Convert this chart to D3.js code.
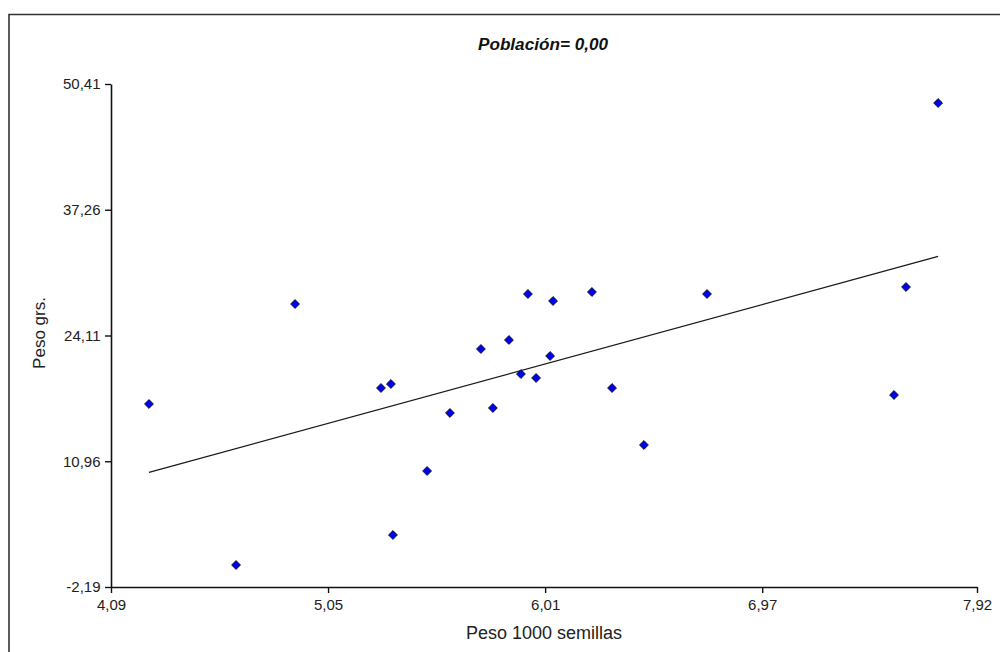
<!DOCTYPE html>
<html>
<head>
<meta charset="utf-8">
<script src="https://cdn.jsdelivr.net/npm/d3@7/dist/d3.min.js"></script>
<style>
  html, body { margin: 0; padding: 0; background: #fff; }
  svg { display: block; }
</style>
</head>
<body>
<svg id="chart" width="1000" height="652"></svg>
<script>
const chartTitle = "Población= 0,00";
const xLabel = "Peso 1000 semillas";
const yLabel = "Peso grs.";
const xTicks = [4.09, 5.05, 6.01, 6.97, 7.92];
const yTicks = [-2.19, 10.96, 24.11, 37.26, 50.41];
const pesoSemillas = [4.258, 4.643, 4.904, 5.284, 5.328, 5.337, 5.488, 5.589, 5.726, 5.779, 5.850, 5.903,
                      5.934, 5.970, 6.032, 6.045, 6.217, 6.306, 6.447, 6.726, 7.553, 7.606, 7.748];
const pesoGrs = [16.95, 0.11, 27.40, 18.62, 19.04, 3.25, 9.94, 16.01, 22.70, 16.53, 23.64, 20.08,
                 28.45, 19.67, 21.97, 27.72, 28.66, 18.62, 12.66, 28.45, 17.89, 29.18, 48.42];

const fmt = v => v.toFixed(2).replace(".", ",");
const svg = d3.select("#chart");
const pLeft = 111, pRight = 977, pTop = 84, pBottom = 587;
const FONT = "Liberation Sans, Arial, sans-serif";

const x = d3.scaleLinear().domain([xTicks[0], xTicks[xTicks.length - 1]]).range([pLeft, pRight]);
const y = d3.scaleLinear().domain([yTicks[0], yTicks[yTicks.length - 1]]).range([pBottom, pTop]);

// frame
svg.append("path").attr("d", "M9,652 V14.5 H1000").attr("fill", "none")
   .attr("stroke", "#333").attr("stroke-width", 1.6);

// title
svg.append("text").attr("x", 543).attr("y", 50).attr("text-anchor", "middle")
   .attr("font-family", FONT).attr("font-size", 16)
   .attr("font-weight", "bold").attr("font-style", "italic").attr("fill", "#111")
   .attr("textLength", 130).attr("lengthAdjust", "spacingAndGlyphs")
   .text(chartTitle);

// axes
const xAxis = d3.axisBottom(x).tickValues(xTicks).tickFormat(fmt).tickSize(6).tickSizeOuter(0);
const yAxis = d3.axisLeft(y).tickValues(yTicks).tickFormat(fmt).tickSize(6).tickSizeOuter(0);

const gx = svg.append("g").attr("transform", `translate(0,${pBottom})`).call(xAxis);
const gy = svg.append("g").attr("transform", `translate(${pLeft},0)`).call(yAxis);
[gx, gy].forEach(g => {
  g.select(".domain").attr("stroke", "#111").attr("stroke-width", 1.6);
  g.selectAll(".tick line").attr("stroke", "#111").attr("stroke-width", 1.4);
  g.selectAll("text").attr("font-family", FONT)
    .attr("font-size", 15).attr("fill", "#222");
});
gx.selectAll("text").attr("dy", "0.92em");
gy.selectAll("text").attr("dx", "-0.1em");

// axis labels
svg.append("text").attr("x", 544).attr("y", 639).attr("text-anchor", "middle")
   .attr("font-family", FONT).attr("font-size", 18).attr("fill", "#222")
   .text(xLabel);
svg.append("text").attr("transform", `translate(45,333) rotate(-90)`)
   .attr("text-anchor", "middle")
   .attr("font-family", FONT).attr("font-size", 17).attr("fill", "#222")
   .text(yLabel);

// least-squares trend line
const nPts = pesoSemillas.length;
const mx = d3.mean(pesoSemillas), my = d3.mean(pesoGrs);
let sxy = 0, sxx = 0;
for (let i = 0; i < nPts; i++) { sxy += (pesoSemillas[i] - mx) * (pesoGrs[i] - my); sxx += (pesoSemillas[i] - mx) ** 2; }
const slope = sxy / sxx, icpt = my - slope * mx;
const xs = [d3.min(pesoSemillas), d3.max(pesoSemillas)];
svg.append("path")
   .datum(xs)
   .attr("d", d3.line().x(d => x(d)).y(d => y(icpt + slope * d)))
   .attr("fill", "none").attr("stroke", "#1a1a1a").attr("stroke-width", 1.3);

// points
const pts = pesoSemillas.map((v, i) => ({ x: v, y: pesoGrs[i] }));
svg.append("g").selectAll("path").data(pts).join("path")
   .attr("transform", d => `translate(${x(d.x)},${y(d.y)})`)
   .attr("d", d3.symbol().type(d3.symbolDiamond2).size(50))
   .attr("fill", "#0000f0").attr("stroke", "#111").attr("stroke-width", 0.9);
</script>
</body>
</html>
